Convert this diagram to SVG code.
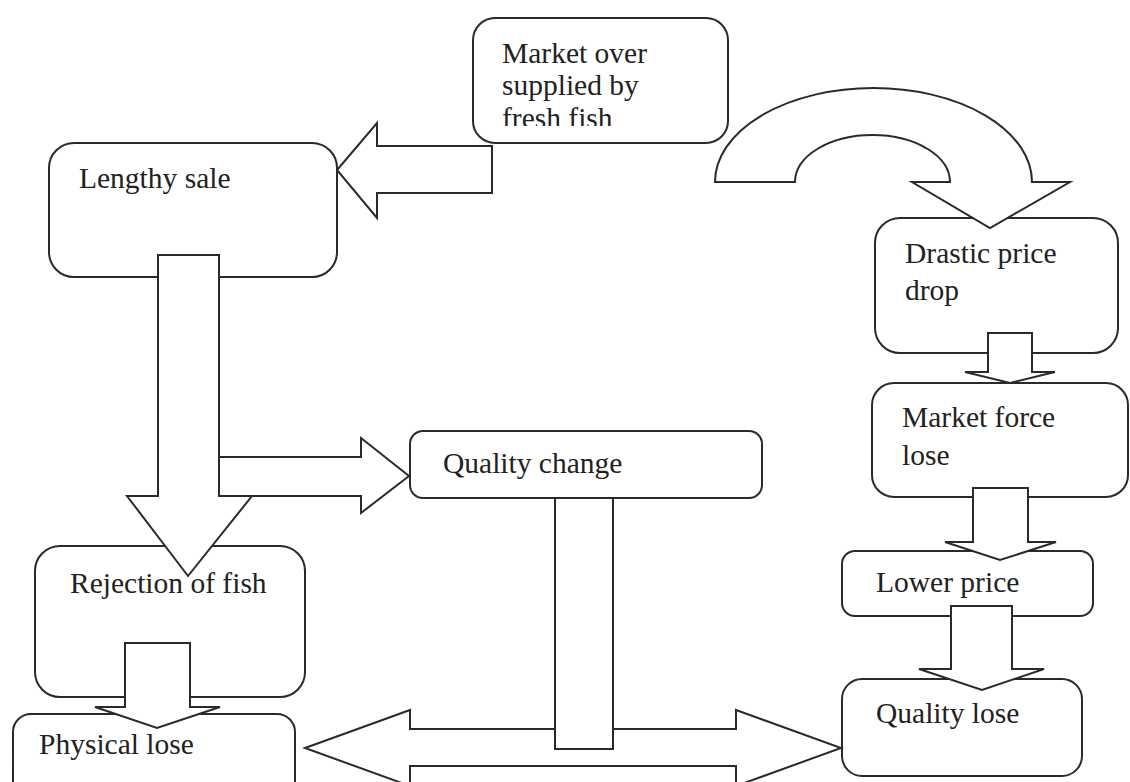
<svg xmlns="http://www.w3.org/2000/svg" width="1130" height="782" viewBox="0 0 1130 782">
<style>
.box{fill:#fff;stroke:#2a2a2a;stroke-width:2}
.arr{fill:#fff;stroke:#2a2a2a;stroke-width:2;stroke-linejoin:miter}
.t{font-family:"Liberation Serif","Times New Roman",serif;font-size:29.5px;fill:#222}
</style>
<defs>
<clipPath id="clipMarket"><rect x="473" y="18" width="255" height="108"/></clipPath>
</defs>
<rect width="1130" height="782" fill="#fff"/>

<g id="n-market-over">
<rect class="box" x="473" y="18" width="255" height="125" rx="22"/>
<g clip-path="url(#clipMarket)">
<text class="t" x="502" y="63">Market over</text>
<text class="t" x="502" y="94.5">supplied by</text>
<text class="t" x="502" y="128">fresh fish</text>
</g>
</g>
<g id="n-lengthy-sale">
<rect class="box" x="49" y="143" width="288" height="134" rx="25"/>
<text class="t" x="79" y="188">Lengthy sale</text>
</g>
<g id="n-drastic-price">
<rect class="box" x="875" y="218" width="243" height="135" rx="25"/>
<text class="t" x="905" y="263">Drastic price</text>
<text class="t" x="905" y="300">drop</text>
</g>
<g id="n-market-force">
<rect class="box" x="872" y="383" width="256" height="114" rx="22"/>
<text class="t" x="902" y="427">Market force</text>
<text class="t" x="902" y="465">lose</text>
</g>
<g id="n-quality-change">
<rect class="box" x="410" y="431" width="352" height="67" rx="13"/>
<text class="t" x="443" y="473">Quality change</text>
</g>
<g id="n-rejection">
<rect class="box" x="35" y="546" width="270" height="151" rx="25"/>
<text class="t" x="70" y="593">Rejection of fish</text>
</g>
<g id="n-lower-price">
<rect class="box" x="842" y="551" width="251" height="65" rx="13"/>
<text class="t" x="876" y="592">Lower price</text>
</g>
<g id="n-quality-lose">
<rect class="box" x="842" y="679" width="240" height="97" rx="20"/>
<text class="t" x="876" y="723">Quality lose</text>
</g>
<g id="n-physical-lose">
<rect class="box" x="13" y="714" width="282" height="90" rx="18"/>
<text class="t" x="39" y="754">Physical lose</text>
</g>

<g id="connectors">
<!-- Market over -> Lengthy sale -->
<polygon class="arr" points="492,146 377,146 377,123 337,170 377,218 377,193 492,193"/>
<!-- Curved: Market over -> Drastic price drop -->
<path class="arr" d="M715,182 A158.5,94 0 0 1 1032,182 L1070,182 L990,228 L912,182 L950,182 A77.5,47 0 0 0 795,182 Z"/>
<!-- Lengthy sale -> Quality change (branch) -->
<polygon class="arr" points="219,457 361,457 361,438 409,476 361,513 361,496 219,496"/>
<!-- Lengthy sale -> Rejection of fish -->
<polygon class="arr" points="158,255 219,255 219,496 252,496 188,576 127,496 158,496"/>
<!-- Rejection -> Physical lose -->
<polygon class="arr" points="125,643 190,643 190,707 220,707 157,728 95,707 125,707"/>
<!-- Drastic -> Market force -->
<polygon class="arr" points="988,333 1032,333 1032,372 1055,372 1010,383 965,372 988,372"/>
<!-- Market force -> Lower price -->
<polygon class="arr" points="973,488 1028,488 1028,542 1056,542 1000,560 945,542 973,542"/>
<!-- Lower price -> Quality lose -->
<polygon class="arr" points="951,606 1012,606 1012,669 1044,669 982,690 919,669 951,669"/>
<!-- Double arrow Physical lose <-> Quality lose -->
<polygon class="arr" points="305,748 410,710 410,729 736,729 736,710 841,748 736,786 736,766 410,766 410,786"/>
<!-- Quality change stem -->
<rect class="arr" x="555" y="498" width="58" height="251"/>
</g>
</svg>
